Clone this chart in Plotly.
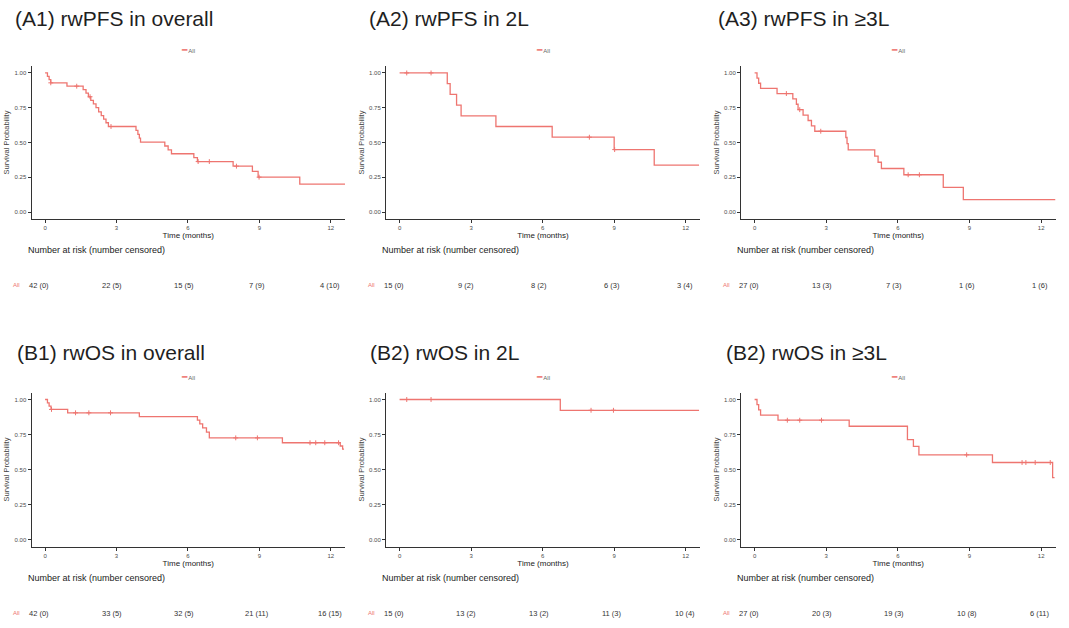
import numpy as np
import plotly.graph_objects as go

# %% Daten
titles = ["(A1) rwPFS in overall", "(A2) rwPFS in 2L", "(A3) rwPFS in ≥3L",
          "(B1) rwOS in overall", "(B2) rwOS in 2L", "(B2) rwOS in ≥3L"]

risk_times = [0, 3, 6, 9, 12]

# A1 rwPFS overall
pfs_all_time = [0, 0.1, 0.17, 0.24, 0.92, 1.6, 1.72, 1.82, 1.92, 2.03, 2.14, 2.25, 2.36, 2.46, 2.56, 2.66,
                3.82, 3.9, 3.96, 4.01, 5.03, 5.17, 5.31, 6.25, 6.4, 7.9, 8.71, 8.95, 10.7, 12.6]
pfs_all_surv = [1.0, 0.976, 0.952, 0.929, 0.905, 0.88, 0.855, 0.829, 0.803, 0.777, 0.751, 0.72, 0.693, 0.668, 0.642, 0.615,
                0.587, 0.559, 0.531, 0.503, 0.475, 0.447, 0.419, 0.391, 0.363, 0.33, 0.293, 0.251, 0.201, 0.201]
pfs_all_cens = [0.24, 1.33, 1.89, 2.77, 6.43, 6.9, 8.04, 8.99]
pfs_all_risk = [42, 22, 15, 7, 4]
pfs_all_ncens = [0, 5, 5, 9, 10]

# A2 rwPFS 2L
pfs_2l_time = [0, 2.0, 2.12, 2.39, 2.58, 4.04, 6.4, 9.0, 10.68, 12.56]
pfs_2l_surv = [1.0, 0.923, 0.846, 0.769, 0.692, 0.615, 0.538, 0.449, 0.337, 0.337]
pfs_2l_cens = [0.3, 1.32, 7.96, 9.02]
pfs_2l_risk = [15, 9, 8, 6, 3]
pfs_2l_ncens = [0, 2, 2, 3, 4]

# A3 rwPFS >=3L
pfs_3l_time = [0, 0.1, 0.17, 0.25, 0.94, 1.6, 1.75, 1.82, 2.03, 2.24, 2.38, 2.52, 3.82, 3.87, 3.92,
               5.03, 5.17, 5.31, 6.25, 7.9, 8.74, 12.6]
pfs_3l_surv = [1.0, 0.963, 0.926, 0.889, 0.852, 0.813, 0.775, 0.736, 0.697, 0.658, 0.62, 0.581, 0.536, 0.492, 0.447,
               0.402, 0.358, 0.313, 0.268, 0.178, 0.089, 0.089]
pfs_3l_cens = [1.33, 1.89, 2.77, 6.43, 6.9]
pfs_3l_risk = [27, 13, 7, 1, 1]
pfs_3l_ncens = [0, 3, 3, 6, 6]

# B1 rwOS overall
os_all_time = [0, 0.1, 0.17, 0.25, 0.95, 3.96, 6.4, 6.5, 6.62, 6.78, 6.9, 9.97, 12.4, 12.5, 12.56]
os_all_surv = [1.0, 0.976, 0.952, 0.929, 0.905, 0.877, 0.853, 0.826, 0.798, 0.767, 0.726, 0.691, 0.668, 0.645, 0.645]
os_all_cens = [0.27, 1.28, 1.84, 2.75, 8.01, 8.92, 11.13, 11.37, 11.75, 12.33]
os_all_risk = [42, 33, 32, 21, 16]
os_all_ncens = [0, 5, 5, 11, 15]

# B2 rwOS 2L
os_2l_time = [0, 6.74, 12.56]
os_2l_surv = [1.0, 0.923, 0.923]
os_2l_cens = [0.3, 1.32, 8.03, 8.97]
os_2l_risk = [15, 13, 13, 11, 10]
os_2l_ncens = [0, 2, 2, 3, 4]

# B3 rwOS >=3L
os_3l_time = [0, 0.1, 0.17, 0.25, 0.98, 3.96, 6.4, 6.65, 6.88, 9.96, 12.48, 12.56]
os_3l_surv = [1.0, 0.963, 0.926, 0.889, 0.852, 0.809, 0.713, 0.665, 0.605, 0.55, 0.442, 0.442]
os_3l_cens = [1.37, 1.89, 2.8, 8.88, 11.2, 11.36, 11.75, 12.38]
os_3l_risk = [27, 20, 19, 10, 6]
os_3l_ncens = [0, 3, 3, 8, 11]

panels = [
    (pfs_all_time, pfs_all_surv, pfs_all_cens, pfs_all_risk, pfs_all_ncens),
    (pfs_2l_time, pfs_2l_surv, pfs_2l_cens, pfs_2l_risk, pfs_2l_ncens),
    (pfs_3l_time, pfs_3l_surv, pfs_3l_cens, pfs_3l_risk, pfs_3l_ncens),
    (os_all_time, os_all_surv, os_all_cens, os_all_risk, os_all_ncens),
    (os_2l_time, os_2l_surv, os_2l_cens, os_2l_risk, os_2l_ncens),
    (os_3l_time, os_3l_surv, os_3l_cens, os_3l_risk, os_3l_ncens),
]

# %% Layout
W, H = 1069, 628
FONT = "Liberation Sans, Arial, sans-serif"
RED = "#EE7570"

col_px = [(31.5, 345), (386, 700), (741, 1055.5)]
row_px = [(66, 219), (392.5, 546.5)]
title_px = [(12.7, 18.5), (367.3, 18.5), (716.3, 18.5), (15, 352), (368.3, 352), (724, 352)]
legend_y = [50, 377]
numrisk_y = [250, 578]
risk_y = [285, 613]

fig = go.Figure()
annotations = []

for i, (t, s, cens, risk, ncens) in enumerate(panels):
    k = i + 1
    row, col = divmod(i, 3)
    xa = "x" if k == 1 else f"x{k}"
    ya = "y" if k == 1 else f"y{k}"
    x0, x1 = col_px[col]
    ytop, ybot = row_px[row]
    xdom = [x0 / W, x1 / W]
    ydom = [1 - ybot / H, 1 - ytop / H]

    fig.add_trace(go.Scatter(x=t, y=s, mode="lines", line=dict(color=RED, width=1.3, shape="hv"),
                             xaxis=xa, yaxis=ya, showlegend=False, hoverinfo="skip"))
    # Zensierungen auf der Kurve
    tt = np.array(t)
    idx = np.searchsorted(tt, np.array(cens), side="right") - 1
    cy = np.array(s)[idx]
    fig.add_trace(go.Scatter(x=cens, y=cy, mode="markers",
                             marker=dict(symbol="cross-thin", size=3.5, line=dict(color=RED, width=1)),
                             xaxis=xa, yaxis=ya, showlegend=False, hoverinfo="skip"))

    axis_common = dict(showline=True, linecolor="#333333", linewidth=1, ticks="outside", ticklen=3,
                       tickcolor="#333333", tickfont=dict(size=6, color="#4d4d4d"), showgrid=False,
                       zeroline=False, automargin=False)
    fig.update_layout(**{
        ("xaxis" if k == 1 else f"xaxis{k}"): dict(
            domain=xdom, range=[-0.57, 12.6], tickvals=risk_times, anchor=ya,
            title=dict(text="Time (months)", font=dict(size=8, color="#222"), standoff=1), **axis_common),
        ("yaxis" if k == 1 else f"yaxis{k}"): dict(
            domain=ydom, range=[-0.05, 1.05], tickvals=[0, 0.25, 0.5, 0.75, 1],
            ticktext=["0.00", "0.25", "0.50", "0.75", "1.00"], anchor=xa,
            title=dict(text="Survival Probability", font=dict(size=7.5, color="#444"), standoff=3), **axis_common),
    })

    tx, ty = title_px[i]
    annotations.append(dict(text=titles[i], x=tx / W, y=1 - ty / H, xref="paper", yref="paper",
                            xanchor="left", yanchor="middle", showarrow=False,
                            font=dict(size=21, color="#1f1f1f")))
    annotations.append(dict(text=f"<span style='color:{RED};font-size:9px'>━</span> "
                                 f"<span style='color:#666'>All</span>",
                            x=(xdom[0] + xdom[1]) / 2, y=1 - legend_y[row] / H, xref="paper", yref="paper",
                            xanchor="center", yanchor="middle", showarrow=False, font=dict(size=6)))
    annotations.append(dict(text="Number at risk (number censored)", x=xdom[0], xshift=-6,
                            y=1 - numrisk_y[row] / H, xref="paper", yref="paper",
                            xanchor="left", yanchor="middle", showarrow=False,
                            font=dict(size=9, color="#222")))
    annotations.append(dict(text="All", x=xdom[0], xshift=-15, y=1 - risk_y[row] / H,
                            xref="paper", yref="paper", xanchor="center", yanchor="middle",
                            showarrow=False, font=dict(size=6, color=RED)))
    for rt, n, c in zip(risk_times, risk, ncens):
        annotations.append(dict(text=f"{n} ({c})", x=rt, xref=xa, xshift=-6 + 5 * rt / 12,
                                y=1 - risk_y[row] / H, yref="paper", xanchor="center", yanchor="middle",
                                showarrow=False, font=dict(size=7.5, color="#333")))

fig.update_layout(width=W, height=H, margin=dict(l=0, r=0, t=0, b=0),
                  paper_bgcolor="white", plot_bgcolor="white",
                  font=dict(family=FONT), annotations=annotations, showlegend=False)

fig.write_html("out.html", config={"displayModeBar": False},
               post_script="document.body.style.margin='0';")
